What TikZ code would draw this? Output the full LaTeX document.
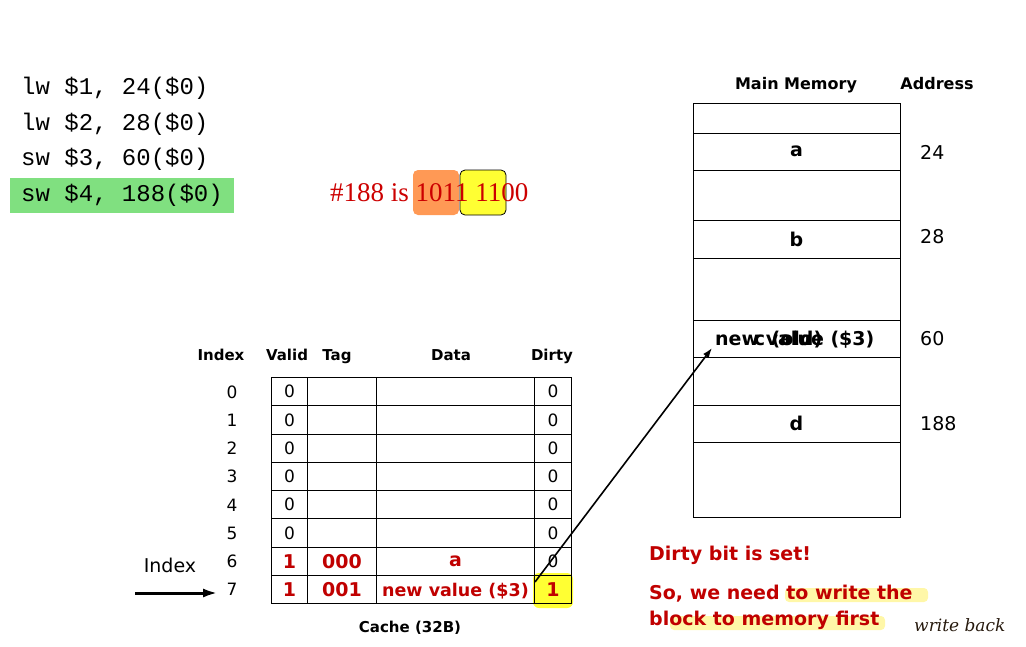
\documentclass[tikz,border=0pt]{standalone}
\usepackage{fontspec}
\setmainfont{DejaVu Sans}
\newfontfamily\tnr{Liberation Serif}
\newfontfamily\mono{Liberation Mono}
\newfontfamily\hand{DejaVu Serif}
\usetikzlibrary{arrows.meta}
\definecolor{dred}{HTML}{C00000}
\definecolor{tred}{HTML}{CC0000}
\definecolor{codegreen}{HTML}{80E080}
\definecolor{orangebox}{HTML}{FF9955}
\definecolor{hlyellow}{HTML}{FFFF33}
\definecolor{paleyellow}{HTML}{FFF7A8}
\begin{document}
\begin{tikzpicture}[x=1pt,y=-1pt,
  code/.style={anchor=west,inner sep=0pt,font=\mono\fontsize{24}{26}\selectfont},
  hdr/.style={inner sep=0pt,text height=11pt,text depth=3pt,font=\bfseries\fontsize{15}{18}\selectfont},
  num/.style={inner sep=0pt,font=\fontsize{17}{20}\selectfont},
  cell/.style={draw,line width=0.9pt,minimum height=28.25pt,inner sep=0pt,anchor=north west,font=\fontsize{17}{20}\selectfont},
  redb/.style={text=dred,font=\bfseries\fontsize{19}{22}\selectfont},
  memrow/.style={draw,line width=0.9pt,inner sep=0pt,minimum width=207pt,font=\bfseries\fontsize{19}{22}\selectfont},
  note/.style={anchor=west,inner sep=0pt,text=dred,font=\bfseries\fontsize{19}{22}\selectfont}]
\useasboundingbox (0,0) rectangle (1026,646);
% code
\fill[codegreen] (10,178) rectangle (234,213);
\node[code] (l1) at (21,88) {lw \$1, 24(\$0)};
\node[code] (l2) at (21,124) {lw \$2, 28(\$0)};
\node[code] (l3) at (21,159) {sw \$3, 60(\$0)};
\node[code] (l4) at (21,195) {sw \$4, 188(\$0)};
% address bits
\fill[orangebox,rounded corners=5pt] (413,170) rectangle (459,215);
\draw[fill=hlyellow,rounded corners=5pt,line width=0.8pt] (460,170) rectangle (506,215);
\node[anchor=west,inner sep=0pt,text=tred,font=\tnr\fontsize{27}{30}\selectfont] (addr) at (330,193) {\#188 is 1011 1100};
% main memory
\node[hdr,font=\bfseries\fontsize{16}{19}\selectfont] (mmlab) at (796,85) {Main Memory};
\node[hdr,font=\bfseries\fontsize{16}{19}\selectfont] (adlab) at (937,85) {Address};
\node[draw,line width=0.9pt,minimum width=207pt,minimum height=414pt,anchor=north west,inner sep=0pt] (mem) at (693,103) {};
\coordinate (m1) at (693,133); \coordinate (m2) at (900,133);
\draw[line width=0.9pt] (m1) -- (m2);
\node[memrow,minimum height=37pt] (ma) at (796.5,151.5) {a};
\node[memrow,minimum height=38pt] (mb) at (796.5,239) {b};
\node[memrow,minimum height=37pt] (mc) at (796.5,338.5) {};
\node[redb,text=black,inner sep=0pt] (mcold) at (788,340) {c (old)};
\node[redb,text=black,inner sep=0pt,anchor=west] (mcnew) at (715,340) {new value (\$3)};
\node[memrow,minimum height=37pt] (md) at (796.5,423.5) {d};
\node[num,font=\fontsize{19}{22}\selectfont,anchor=west] (a24) at (920,152) {24};
\node[num,font=\fontsize{19}{22}\selectfont,anchor=west] (a28) at (920,237) {28};
\node[num,font=\fontsize{19}{22}\selectfont,anchor=west] (a60) at (920,339) {60};
\node[num,font=\fontsize{19}{22}\selectfont,anchor=west] (a188) at (920,424) {188};
% cache headers
\node[hdr] (hi) at (221,356) {Index};
\node[hdr] (hv) at (287,356) {Valid};
\node[hdr] (ht) at (337,356) {Tag};
\node[hdr] (hd) at (451,356) {Data};
\node[hdr] (hy) at (552,356) {Dirty};
% yellow highlight on dirty bit
\fill[hlyellow,rounded corners=6pt] (533,573) rectangle (573,608);
% cache cells
\foreach \r in {0,...,7}{
  \pgfmathsetmacro{\yy}{377+28.25*\r}
  \node[num] (i\r) at (232,\yy+15) {\r};
  \node[cell,minimum width=36pt] (v\r) at (271,\yy) {};
  \node[cell,minimum width=69pt] (t\r) at (307,\yy) {};
  \node[cell,minimum width=158pt] (d\r) at (376,\yy) {};
  \node[cell,minimum width=37pt] (y\r) at (534,\yy) {};
}
\foreach \r in {0,...,5}{
  \node[num] at (v\r.center) {0};
  \node[num] at (y\r.center) {0};
}
\node[num] at (y6.center) {0};
\node[redb] at (v6.center) {1};
\node[redb] at (t6.center) {000};
\node[redb] at (d6.center) {a};
\node[redb] at (v7.center) {1};
\node[redb] at (t7.center) {001};
\node[redb,font=\bfseries\fontsize{17.5}{20}\selectfont] at ([yshift=-2pt]d7.center) {new value (\$3)};
\node[redb] at (y7.center) {1};
\node[hdr,font=\bfseries\fontsize{15}{18}\selectfont] (cap) at (410,628) {Cache (32B)};
\node[num,font=\fontsize{19}{22}\selectfont] (idx) at (170,565) {Index};
\coordinate (arrs) at (135,593);
\coordinate (arre) at (218,593);
\draw[-{Latex[length=15pt,width=9pt]},line width=3pt] (arrs) -- (arre);
% write back arrow
\coordinate (wbs) at (535,582);
\coordinate (wbe) at (712,348);
\draw[-{Latex[length=10pt,width=7pt]},line width=1.6pt] (wbs) -- (wbe);
% notes
\fill[paleyellow,rounded corners=4pt] (785,588) rectangle (928,602);
\fill[paleyellow,rounded corners=4pt] (670,616) rectangle (885,630);
\node[note] (n1) at (649,555) {Dirty bit is set!};
\node[note] (n2) at (649,594) {So, we need to write the};
\node[note] (n3) at (649,620) {block to memory first};
\node[anchor=west,inner sep=0pt,text=black!80!brown,font=\hand\itshape\fontsize{17}{20}\selectfont] (wb) at (914,625) {write back};
\end{tikzpicture}
\end{document}
